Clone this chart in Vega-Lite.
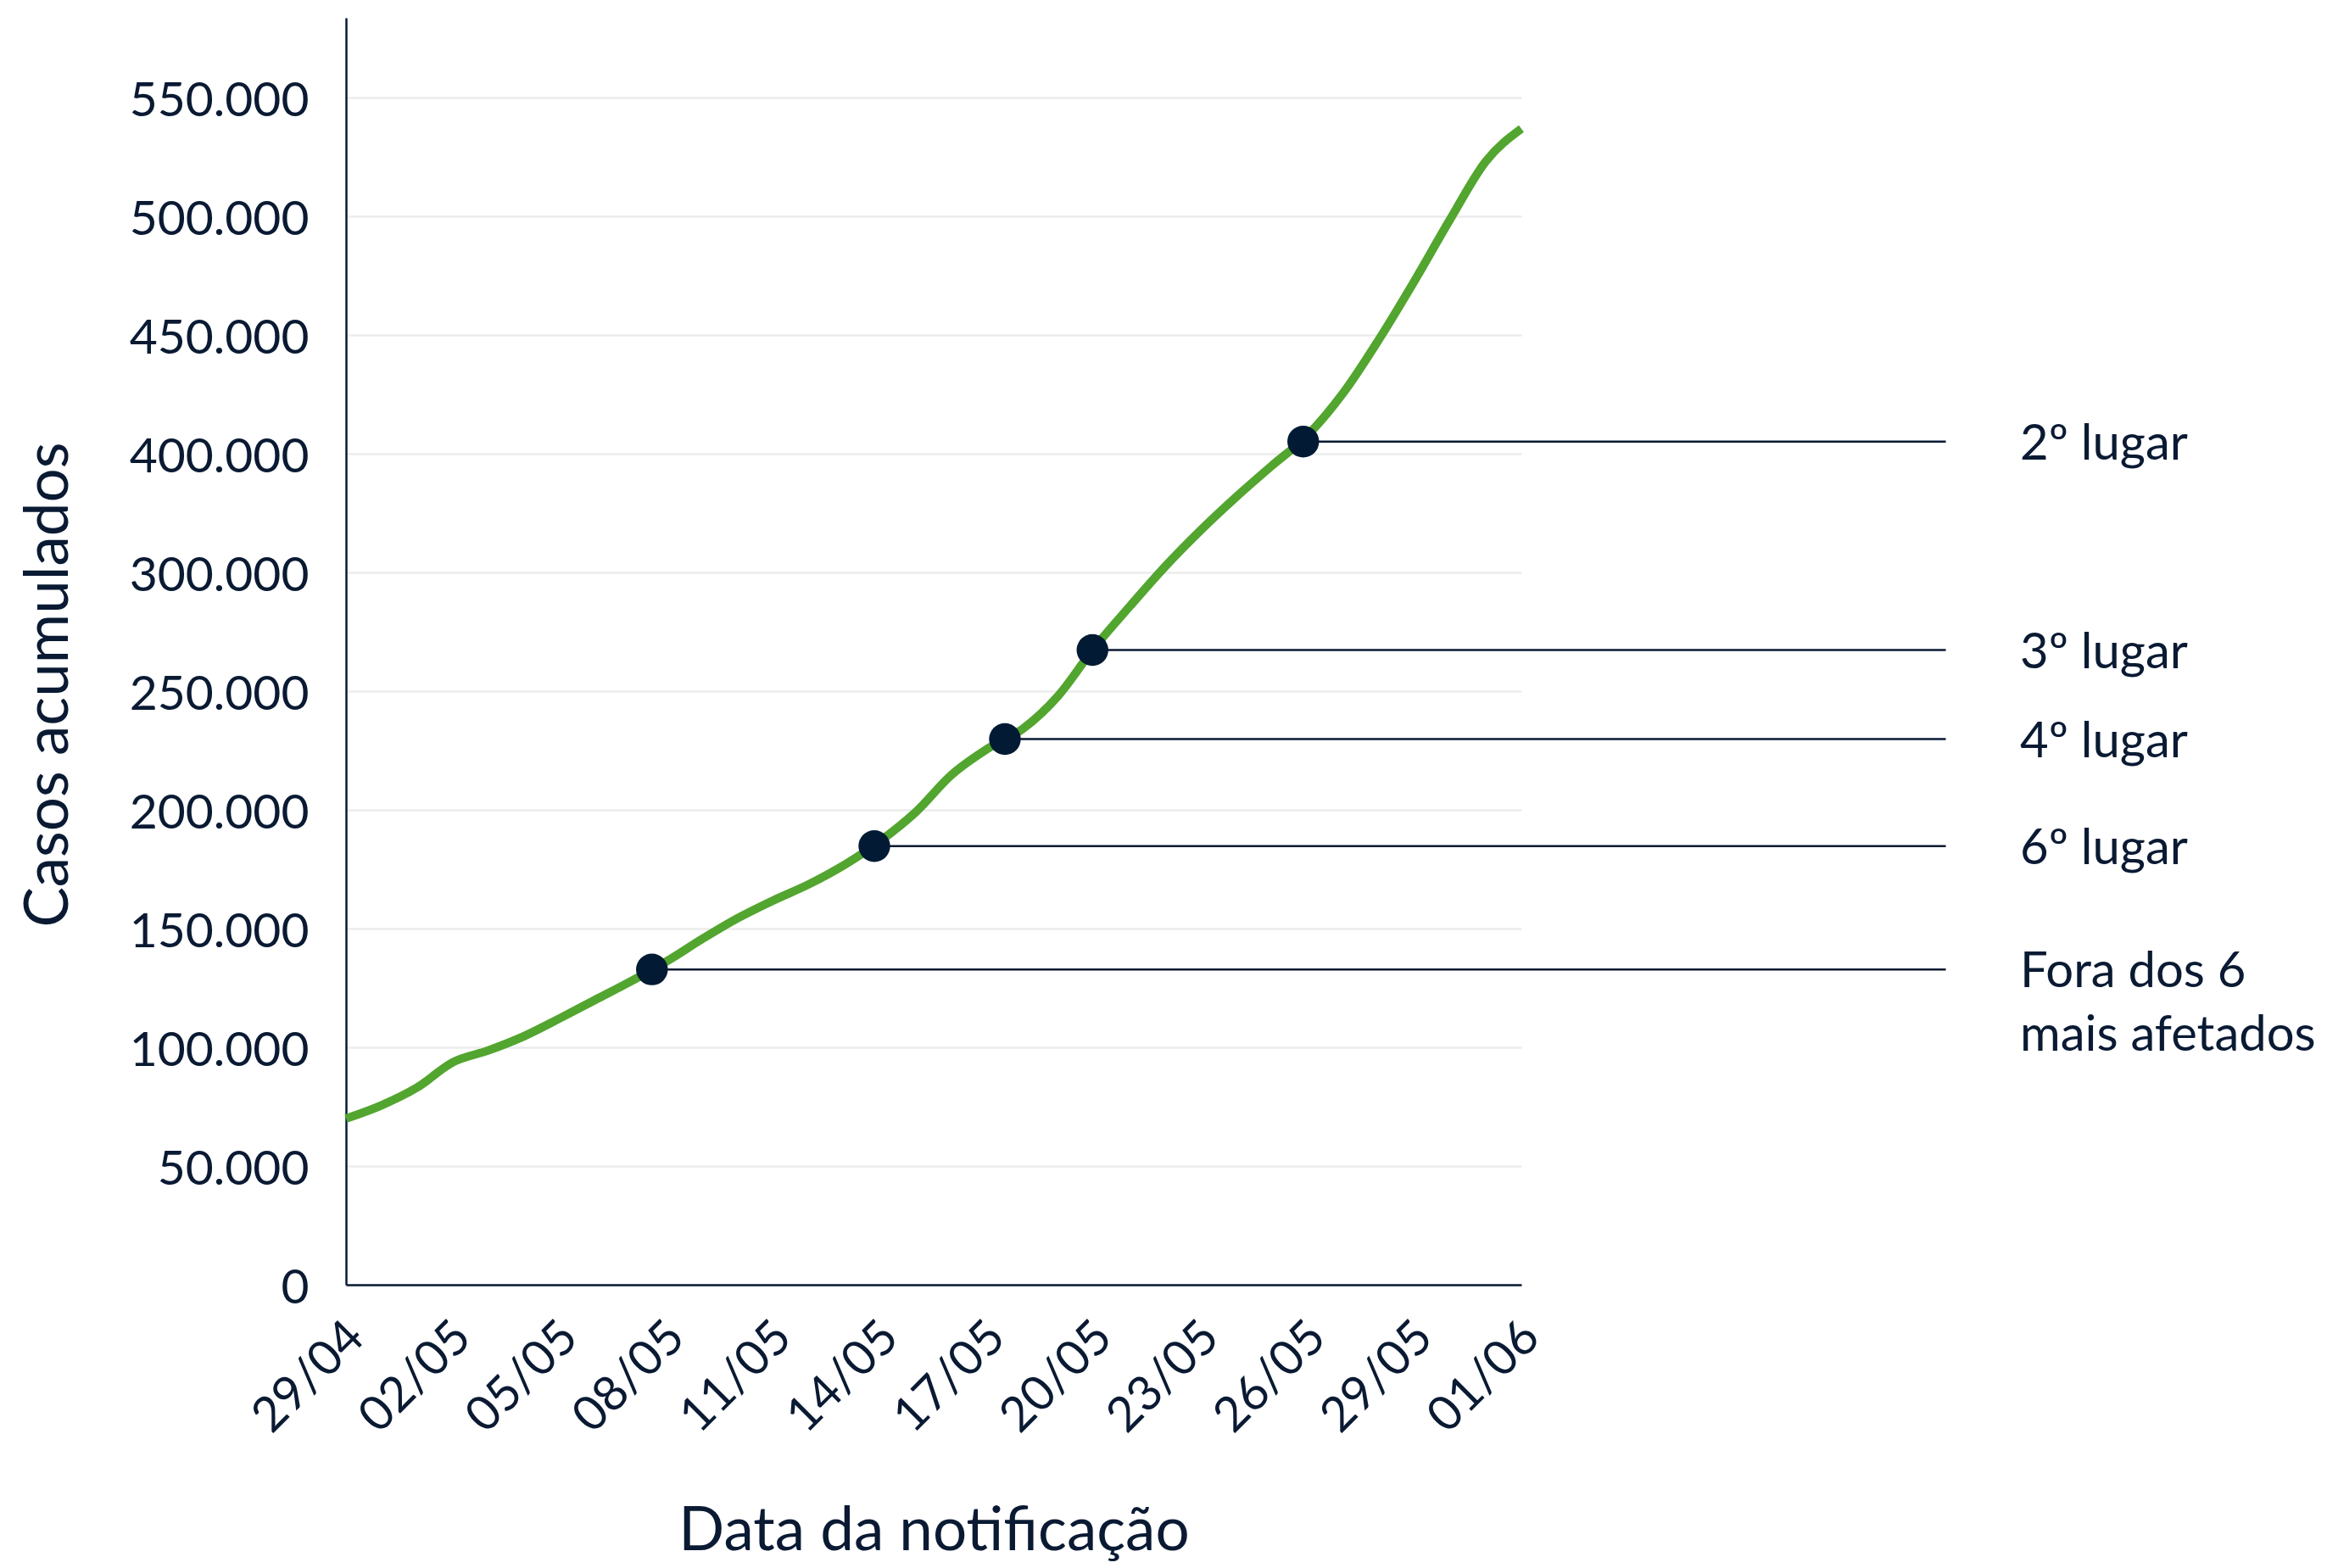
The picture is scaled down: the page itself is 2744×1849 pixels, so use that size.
{
  "$schema": "https://vega.github.io/schema/vega-lite/v6.json",
  "width": 1386,
  "height": 1494,
  "autosize": "none",
  "padding": {"left": 408, "top": 21, "right": 950, "bottom": 334},
  "background": "white",
  "config": {
    "view": {"stroke": null},
    "font": "Lato",
    "axis": {
      "labelFont": "Lato",
      "titleFont": "Lato",
      "labelColor": "#0a1a33",
      "titleColor": "#0a1a33",
      "domainColor": "#0a1a33",
      "domainWidth": 2.5,
      "ticks": false,
      "tickSize": 0,
      "labelFontSize": 57,
      "labelLimit": 600,
      "titleFontSize": 71,
      "titleFontWeight": "normal",
      "titleLimit": 2000
    }
  },
  "datasets": {
    "series": [
      {"dia": "2020-04-29T00:00:00", "casos": 70000},
      {"dia": "2020-04-30T00:00:00", "casos": 75600},
      {"dia": "2020-05-01T00:00:00", "casos": 83100},
      {"dia": "2020-05-02T00:00:00", "casos": 93700},
      {"dia": "2020-05-03T00:00:00", "casos": 98700},
      {"dia": "2020-05-04T00:00:00", "casos": 104700},
      {"dia": "2020-05-05T00:00:00", "casos": 112200},
      {"dia": "2020-05-06T00:00:00", "casos": 120000},
      {"dia": "2020-05-07T00:00:00", "casos": 127800},
      {"dia": "2020-05-08T00:00:00", "casos": 136200},
      {"dia": "2020-05-09T00:00:00", "casos": 145600},
      {"dia": "2020-05-10T00:00:00", "casos": 154400},
      {"dia": "2020-05-11T00:00:00", "casos": 161900},
      {"dia": "2020-05-12T00:00:00", "casos": 168700},
      {"dia": "2020-05-13T00:00:00", "casos": 176900},
      {"dia": "2020-05-14T00:00:00", "casos": 186900},
      {"dia": "2020-05-15T00:00:00", "casos": 199100},
      {"dia": "2020-05-16T00:00:00", "casos": 214700},
      {"dia": "2020-05-17T00:00:00", "casos": 225600},
      {"dia": "2020-05-18T00:00:00", "casos": 234100},
      {"dia": "2020-05-19T00:00:00", "casos": 248100},
      {"dia": "2020-05-20T00:00:00", "casos": 268100},
      {"dia": "2020-05-21T00:00:00", "casos": 285600},
      {"dia": "2020-05-22T00:00:00", "casos": 305000},
      {"dia": "2020-05-23T00:00:00", "casos": 335600},
      {"dia": "2020-05-24T00:00:00", "casos": 363700},
      {"dia": "2020-05-25T00:00:00", "casos": 390000},
      {"dia": "2020-05-26T00:00:00", "casos": 407800},
      {"dia": "2020-05-27T00:00:00", "casos": 425600},
      {"dia": "2020-05-28T00:00:00", "casos": 448100},
      {"dia": "2020-05-29T00:00:00", "casos": 472800},
      {"dia": "2020-05-30T00:00:00", "casos": 498700},
      {"dia": "2020-05-31T00:00:00", "casos": 523100},
      {"dia": "2020-06-01T00:00:00", "casos": 536900}
    ],
    "markers": [
      {"dia": "2020-05-07T14:10:00", "casos": 132800, "rotulo": "Fora dos 6\nmais afetados"},
      {"dia": "2020-05-13T20:00:00", "casos": 184750, "rotulo": "6º lugar"},
      {"dia": "2020-05-17T12:00:00", "casos": 229800, "rotulo": "4º lugar"},
      {"dia": "2020-05-19T23:00:00", "casos": 267300, "rotulo": "3º lugar"},
      {"dia": "2020-05-25T21:00:00", "casos": 405100, "rotulo": "2º lugar"}
    ]
  },
  "encoding": {
    "x": {
      "field": "dia",
      "type": "temporal",
      "scale": {
        "domain": [
          {"year": 2020, "month": 4, "date": 29},
          {"year": 2020, "month": 6, "date": 1}
        ],
        "nice": false
      },
      "axis": {
        "title": "Data da notificação",
        "values": [
          {"year": 2020, "month": 4, "date": 29},
          {"year": 2020, "month": 5, "date": 2},
          {"year": 2020, "month": 5, "date": 5},
          {"year": 2020, "month": 5, "date": 8},
          {"year": 2020, "month": 5, "date": 11},
          {"year": 2020, "month": 5, "date": 14},
          {"year": 2020, "month": 5, "date": 17},
          {"year": 2020, "month": 5, "date": 20},
          {"year": 2020, "month": 5, "date": 23},
          {"year": 2020, "month": 5, "date": 26},
          {"year": 2020, "month": 5, "date": 29},
          {"year": 2020, "month": 6, "date": 1}
        ],
        "format": "%d/%m",
        "labelAngle": -45,
        "labelAlign": "right",
        "labelBaseline": "top",
        "labelPadding": 33,
        "labelOffset": -8,
        "labelFlush": false,
        "labelOverlap": false,
        "grid": false,
        "titleY": 312,
        "titleBaseline": "alphabetic"
      }
    },
    "y": {
      "field": "casos",
      "type": "quantitative",
      "scale": {
        "domain": [0, 300000, 400000, 583600],
        "range": [1494, 654, 514, 0],
        "nice": false,
        "zero": false
      },
      "axis": {
        "title": "Casos acumulados",
        "values": [0, 50000, 100000, 150000, 200000, 250000, 300000, 400000, 450000, 500000, 550000],
        "labelExpr": "replace(format(datum.value, ','), ',', '.')",
        "grid": true,
        "gridColor": "#ececec",
        "gridWidth": 2.5,
        "labelPadding": 44,
        "labelOffset": 4,
        "titleX": -329,
        "titleY": 786,
        "titleAngle": -90,
        "titleAlign": "center",
        "titleBaseline": "alphabetic"
      }
    }
  },
  "layer": [
    {
      "data": {"name": "series"},
      "mark": {"type": "line", "color": "#52a52e", "strokeWidth": 10, "interpolate": "monotone"}
    },
    {
      "data": {"name": "markers"},
      "mark": {"type": "rule", "color": "#0a1a33", "strokeWidth": 2.5},
      "encoding": {
        "x2": {"datum": {"year": 2020, "month": 6, "date": 12, "hours": 22}}
      }
    },
    {
      "data": {"name": "markers"},
      "mark": {"type": "circle", "color": "#021a33", "opacity": 1, "size": 1400}
    },
    {
      "data": {"name": "markers"},
      "mark": {
        "type": "text",
        "align": "left",
        "baseline": "top",
        "dy": -25,
        "fontSize": 58,
        "lineHeight": 75,
        "lineBreak": "\n",
        "color": "#0a1a33",
        "font": "Lato"
      },
      "encoding": {
        "x": {"datum": {"year": 2020, "month": 6, "date": 15}, "type": "temporal"},
        "text": {"field": "rotulo"}
      }
    }
  ]
}
